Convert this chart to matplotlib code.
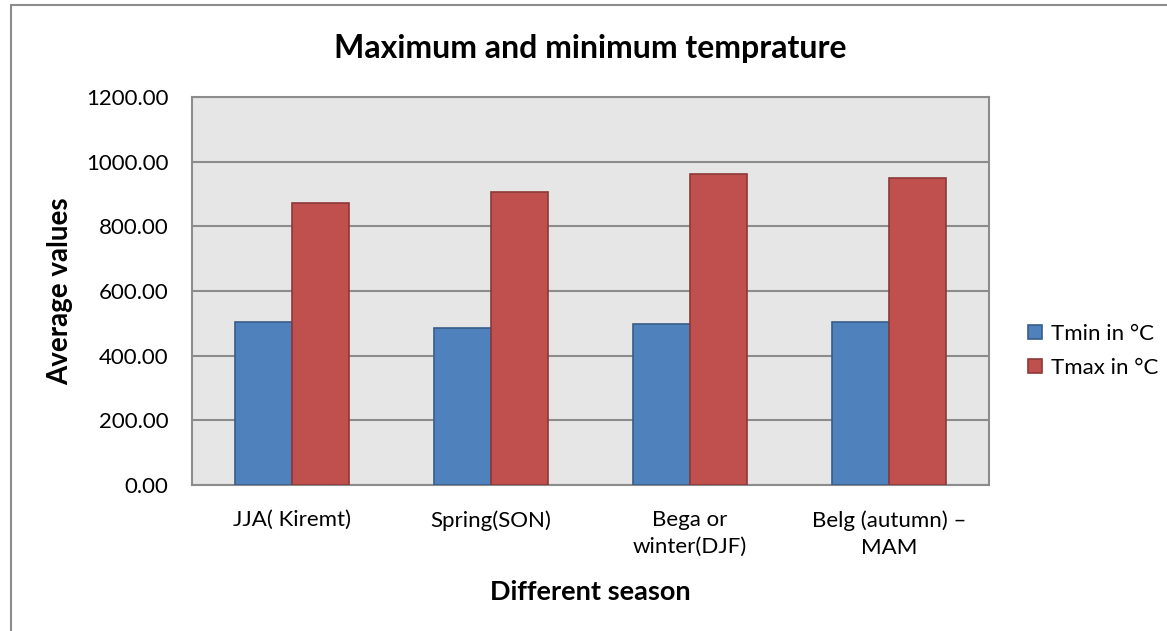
import numpy as np
import matplotlib
matplotlib.use("Agg")
import matplotlib.pyplot as plt
from matplotlib.patches import Rectangle

plt.rcParams['font.family'] = ['Lato', 'DejaVu Sans']

seasons = ['JJA( Kiremt)', 'Spring(SON)', 'Bega or\nwinter(DJF)', 'Belg (autumn) \u2013\nMAM']
tmin = [503, 485, 497, 503]
tmax = [873, 905, 961, 948]
series_names = ['Tmin in \u00b0C', 'Tmax in \u00b0C']
yticks = [0, 200, 400, 600, 800, 1000, 1200]

fig = plt.figure(figsize=(11.67, 6.31), dpi=100)
ax = fig.add_axes([0.1645, 0.2314, 0.683, 0.615])

# outer chart frame (runs past the right and bottom edge)
fig.patches.append(Rectangle((11 / 1167, -0.1), 1.2, 1 - 5 / 631 + 0.1,
                             transform=fig.transFigure, fill=False,
                             edgecolor='#8c8c8c', linewidth=1.5))

x = np.arange(len(seasons))
w = 1 / 3.5
ax.bar(x - w / 2, tmin, w, color='#4f81bd', edgecolor='#385d8a', linewidth=1.2,
       label=series_names[0], zorder=3)
ax.bar(x + w / 2, tmax, w, color='#c0504d', edgecolor='#8c3836', linewidth=1.2,
       label=series_names[1], zorder=3)

ax.set_facecolor('#e6e6e6')
ax.set_xlim(-0.5, len(seasons) - 0.5)
ax.set_ylim(0, 1200)
ax.set_yticks(yticks)
ax.set_yticklabels([f'{v:.2f}' for v in yticks])
ax.set_xticks(x)
ax.set_xticklabels(seasons, linespacing=1.45)
ax.tick_params(axis='both', length=0, labelsize=16)
ax.tick_params(axis='x', pad=18)
ax.tick_params(axis='y', pad=17)
ax.yaxis.grid(True, color='#8c8c8c', linewidth=1.5, zorder=0)
for s in ax.spines.values():
    s.set_color('#8c8c8c')
    s.set_linewidth(1.5)

ax.set_title('Maximum and minimum temprature', fontsize=23, fontweight='bold', pad=28)
ax.set_ylabel('Average values', fontsize=20, fontweight='bold')
ax.yaxis.set_label_coords(-0.149, 0.5)
ax.set_xlabel('Different season', fontsize=19.5, fontweight='bold', labelpad=16)

fig.legend(loc='center right', bbox_to_anchor=(1158 / 1167, 0.444), frameon=False, fontsize=16,
           handlelength=0.6, handleheight=0.6, handletextpad=0.4, labelspacing=0.65,
           borderaxespad=0, borderpad=0)

fig.savefig('out.png', dpi=100)
